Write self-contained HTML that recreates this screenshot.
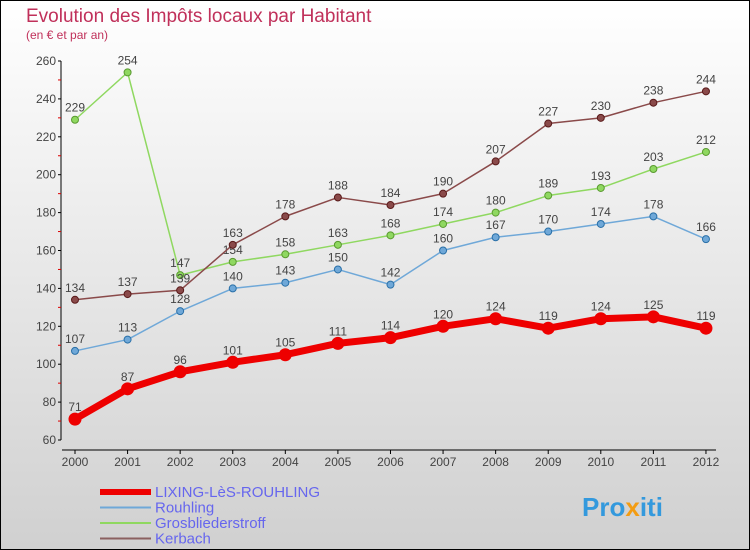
<!DOCTYPE html>
<html><head><meta charset="utf-8"><style>
body{margin:0}
#c{width:750px;height:550px;position:relative;overflow:hidden;font-family:"Liberation Sans",sans-serif}
</style></head><body>
<div id="c">
<svg id="s" width="750" height="550" xmlns="http://www.w3.org/2000/svg">
<defs><linearGradient id="bg" x1="0" y1="0" x2="0" y2="1"><stop offset="0" stop-color="#ffffff"/><stop offset="1" stop-color="#d0d0d0"/></linearGradient></defs>
<rect x="0.5" y="0.5" width="749" height="549" fill="url(#bg)" stroke="#000"/>
<text x="26" y="22" font-size="19" fill="#c0305a">Evolution des Impôts locaux par Habitant</text>
<text x="26" y="39" font-size="12" fill="#c0305a">(en € et par an)</text>
<g id="axes"></g><g id="series"></g><g id="legend"></g>
<text x="582" y="516" font-size="26" font-weight="bold" fill="#3399dd">Pro<tspan fill="#f39c12">x</tspan>iti</text>
</svg></div>
<script>
const years=[2000,2001,2002,2003,2004,2005,2006,2007,2008,2009,2010,2011,2012];
const yTicks=[60,80,100,120,140,160,180,200,220,240,260];
const lixing=[71,87,96,101,105,111,114,120,124,119,124,125,119];
const rouhling=[107,113,128,140,143,150,142,160,167,170,174,178,166];
const grosb=[229,254,147,154,158,163,168,174,180,189,193,203,212];
const kerbach=[134,137,139,163,178,188,184,190,207,227,230,238,244];
const NS="http://www.w3.org/2000/svg";
const X=i=>75+i*52.58;
const Y=v=>440-(v-60)*1.895;
function mk(t,a,p){const e=document.createElementNS(NS,t);for(const k in a)e.setAttribute(k,a[k]);p.appendChild(e);return e;}
const ax=document.getElementById('axes');
let e=mk('line',{x1:61,y1:Y(260),x2:61,y2:Y(60),stroke:'#000'},ax);


e=mk('line',{x1:62,y1:450,x2:716,y2:450,stroke:'#000'},ax);


yTicks.forEach((v,i)=>{
 mk('line',{x1:58,y1:Y(v),x2:61,y2:Y(v),stroke:'#000'},ax);
 if(i<yTicks.length-1)mk('line',{x1:58,y1:Y(v+10),x2:61,y2:Y(v+10),stroke:'#d00'},ax);
 const t=mk('text',{x:56,y:Y(v)+4,'font-size':12,fill:'#444','text-anchor':'end'},ax);t.textContent=v;
 
 
});
years.forEach((y,i)=>{
 mk('line',{x1:X(i),y1:450,x2:X(i),y2:454,stroke:'#000'},ax);
 const t=mk('text',{x:X(i),y:466,'font-size':12,fill:'#444','text-anchor':'middle'},ax);t.textContent=y;
 
 
});
const sg=document.getElementById('series');
function draw(vals,color,w,r,name,dotStroke){
 const g=mk('g',{},sg);
 
 
 mk('polyline',{points:vals.map((v,i)=>X(i)+','+Y(v)).join(' '),fill:'none',stroke:color,'stroke-width':w,'stroke-linejoin':'round'},g);
 vals.forEach((v,i)=>{
  const c=mk('circle',{cx:X(i),cy:Y(v),r:r,fill:color,stroke:dotStroke,'stroke-width':1},g);
  
  
  const t=mk('text',{x:X(i),y:Y(v)-8,'font-size':12,fill:'#444','text-anchor':'middle'},g);t.textContent=v;
  
  
 });
}
draw(grosb,'#8fd860',1.5,3.5,'grosbliederstroff','#5a9a30');
draw(kerbach,'#8a4a4a',1.5,3.5,'kerbach','#5a1a1a');
draw(rouhling,'#6fa8d8',1.5,3.5,'rouhling','#2a70a8');
draw(lixing,'#ee0000',7,6,'lixing','#ee0000');
const lg=document.getElementById('legend');
const items=[['LIXING-LèS-ROUHLING','#ee0000',6],['Rouhling','#6fa8d8',2],['Grosbliederstroff','#8fd860',2],['Kerbach','#8a6060',2]];
items.forEach((it,i)=>{
 const y=492+i*15.5;
 const g=mk('g',{},lg);
 
 
 mk('line',{x1:100,y1:y,x2:151,y2:y,stroke:it[1],'stroke-width':it[2]},g);
 const t=mk('text',{x:155,y:y+5,'font-size':15,fill:'#6666ee'},g);t.textContent=it[0];
});
</script>
</body></html>
